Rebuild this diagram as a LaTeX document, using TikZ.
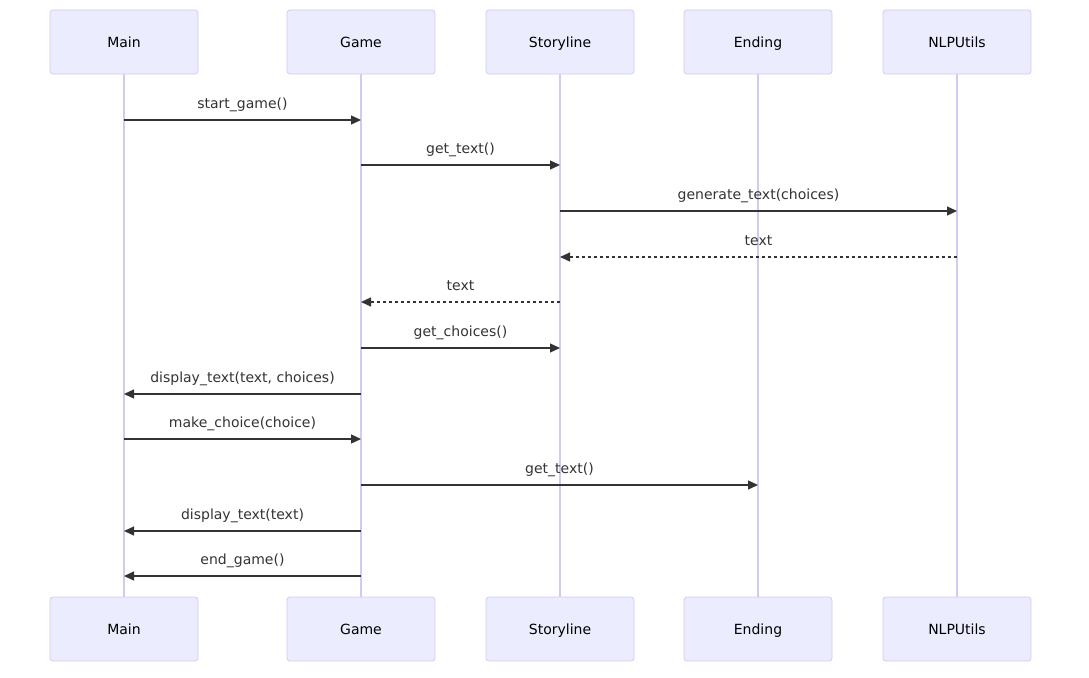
\documentclass[tikz,border=0pt]{standalone}
\usepackage{fontspec}
\setmainfont{DejaVu Sans}
\usetikzlibrary{arrows.meta}
\definecolor{actfill}{HTML}{ECECFF}
\definecolor{actline}{HTML}{D5C9F2}
\definecolor{msg}{HTML}{333333}
\tikzset{
  actor/.style={draw=actline, fill=actfill, line width=0.8pt, rounded corners=3pt,
    minimum width=148pt, minimum height=64pt, inner sep=0pt, text height=13pt, text depth=1.5pt,
    font=\fontsize{14}{16}\selectfont, text=black},
  lifeline/.style={draw=actline, line width=1.2pt},
  msgline/.style={draw=msg, line width=1.3pt, -{Triangle[length=10pt,width=9pt]}},
  reply/.style={msgline, dash pattern=on 3pt off 3pt},
  lbl/.style={font=\fontsize{14}{16}\selectfont, text=msg, inner sep=0pt, text height=10.5pt, text depth=3pt}
}
\begin{document}
\begin{tikzpicture}[x=1pt,y=-1pt]
\useasboundingbox (0,0) rectangle (1089,677);
% lifelines first
\foreach \n/\x in {a/124,b/361,c/560,d/758,e/957}{
  \coordinate (t\n) at (\x,74);
  \coordinate (u\n) at (\x,597);
  \draw[lifeline] (t\n) -- (u\n);
}
\node[actor] (mainT) at (124,42) {Main};
\node[actor] (gameT) at (361,42) {Game};
\node[actor] (storyT) at (560,42) {Storyline};
\node[actor] (endT) at (758,42) {Ending};
\node[actor] (nlpT) at (957,42) {NLPUtils};
\node[actor] (mainB) at (124,629) {Main};
\node[actor] (gameB) at (361,629) {Game};
\node[actor] (storyB) at (560,629) {Storyline};
\node[actor] (endB) at (758,629) {Ending};
\node[actor] (nlpB) at (957,629) {NLPUtils};
% messages
\newcommand\msgA[5]{% style, from x, to x, y, label
  \coordinate (s) at (#2,#4); \coordinate (e) at (#3,#4);
  \draw[#1] (s) -- (e);
  \node[lbl] at ({(#2+#3)/2},#4-15) {#5};}
\msgA{msgline}{124}{361}{120}{start\_game()}
\msgA{msgline}{361}{560}{165}{get\_text()}
\msgA{msgline}{560}{957}{211}{generate\_text(choices)}
\msgA{reply}{957}{560}{257}{text}
\msgA{reply}{560}{361}{302}{text}
\msgA{msgline}{361}{560}{348}{get\_choices()}
\msgA{msgline}{361}{124}{394}{display\_text(text, choices)}
\msgA{msgline}{124}{361}{439}{make\_choice(choice)}
\msgA{msgline}{361}{758}{485}{get\_text()}
\msgA{msgline}{361}{124}{531}{display\_text(text)}
\msgA{msgline}{361}{124}{576}{end\_game()}
\end{tikzpicture}
\end{document}
